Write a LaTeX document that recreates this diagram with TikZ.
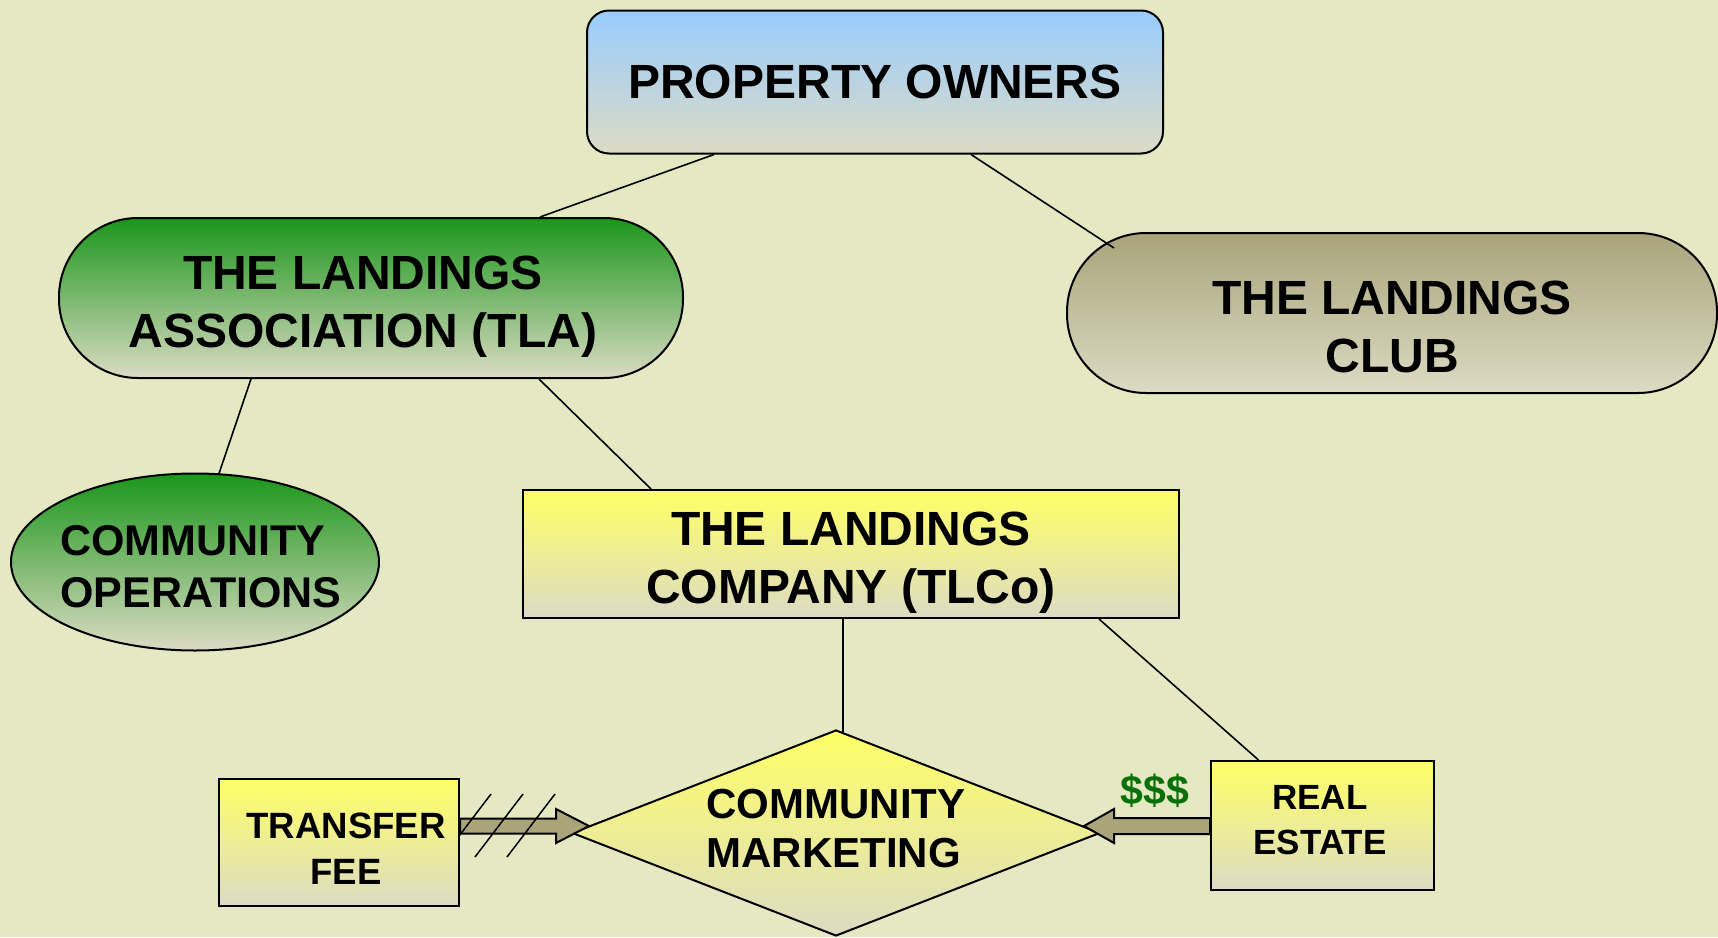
\documentclass[tikz,border=0pt]{standalone}
\usepackage{fontspec}
\setmainfont{Liberation Sans}
\usetikzlibrary{shapes.geometric,calc}

\definecolor{bg}{RGB}{229,233,195}
\definecolor{fade}{RGB}{220,219,196}
\definecolor{sky}{RGB}{153,204,255}
\definecolor{leaf}{RGB}{26,150,26}
\definecolor{olive}{RGB}{169,164,122}
\definecolor{lemon}{RGB}{255,255,102}
\definecolor{money}{RGB}{10,112,10}

\begin{document}
\begin{tikzpicture}[x=0.5pt,y=-0.5pt,
  box/.style={draw=black, line width=1pt, inner sep=0pt, align=center, bottom color=fade},
  bigtext/.style={font=\fontsize{24}{29}\selectfont\bfseries, align=center},
  optext/.style={font=\fontsize{21.5}{26}\selectfont\bfseries, align=left},
  mktext/.style={font=\fontsize{21}{24.5}\selectfont\bfseries, align=left},
  tftext/.style={font=\fontsize{18.3}{23}\selectfont\bfseries, align=center},
  retext/.style={font=\fontsize{17.5}{22.5}\selectfont\bfseries, align=center},
  link/.style={draw=black, line width=0.8pt},
  blockarrow/.style={draw=black, line width=1pt, fill=olive, line join=miter},
  hatch/.style={draw=black, line width=0.75pt}]

\useasboundingbox (0,0) rectangle (1718,937);
\fill[bg] (0,0) rectangle (1718,937);

% top level
\node[box, bigtext, top color=sky, rounded corners=11pt,
      minimum width=288pt, minimum height=71.5pt] (po) at (875,82) {PROPERTY OWNERS};

% association and club
\node[box, top color=leaf, rounded corners=39.5pt,
      minimum width=312pt, minimum height=80pt,
      label={[bigtext, xshift=-4pt, yshift=-4.5pt]center:THE LANDINGS\\ASSOCIATION (TLA)}] (tla) at (371,298) {};
\node[box, top color=olive, rounded corners=39.5pt,
      minimum width=325pt, minimum height=80pt,
      label={[bigtext, yshift=-7pt]center:THE LANDINGS\\CLUB}] (club) at (1392,313) {};

% operations
\node[box, ellipse, top color=leaf, minimum width=184pt, minimum height=88.5pt,
      label={[optext, xshift=3pt, yshift=-2.5pt]center:COMMUNITY\\OPERATIONS}] (co) at (195,562) {};

% company
\node[box, top color=lemon, minimum width=328pt, minimum height=64pt,
      label={[bigtext, yshift=-4.5pt]center:THE LANDINGS\\COMPANY (TLCo)}] (tlco) at (851,554) {};

% marketing and its inputs
\node[box, diamond, aspect=2.563, top color=lemon, minimum width=264pt, minimum height=103pt,
      label={[mktext, yshift=2pt]center:COMMUNITY\\MARKETING}] (dia) at (836,833) {};
\node[box, top color=lemon, minimum width=120pt, minimum height=63.5pt,
      label={[tftext, xshift=3.5pt, yshift=-3.5pt]center:TRANSFER\\FEE}] (tf) at (339,842) {};
\node[box, top color=lemon, minimum width=111.5pt, minimum height=64.5pt,
      label={[retext, xshift=-1.25pt, yshift=2.5pt]center:REAL\\ESTATE}] (re) at (1322.5,825.5) {};

\node[font=\fontsize{20.5}{24}\selectfont\bfseries, text=money, inner sep=0pt] (usd) at (1155,791) {\$\$\$};

% connectors
\draw[link] ($(po.south)+(-161,0)$) -- ($(tla.north)+(169,0)$);
\draw[link] ($(po.south)+(96,0)$) -- ($(club.north)+(-278,16)$);
\draw[link] ($(tla.south)+(-120,0)$) -- ($(co.north)+(24,1)$);
\draw[link] ($(tla.south)+(168,0)$) -- ($(tlco.north)+(-200,0)$);
\draw[link] ($(tlco.south)+(-8,0)$) -- ($(dia.north)+(7,3)$);
\draw[link] ($(tlco.south)+(248,0)$) -- ($(re.north)+(-64,0)$);

% block arrows into marketing
\draw[blockarrow] ($(tf.east)+(0,-23.5)$) -- ++(96,0) -- ++(0,-9.5) -- ++(33,17)
      -- ++(-33,17) -- ++(0,-9.5) -- ++(-96,0) -- cycle;
\draw[blockarrow] ($(re.west)+(0,-7.5)$) -- ++(-96,0) -- ++(0,-9) -- ++(-30,17)
      -- ++(30,17) -- ++(0,-9) -- ++(96,0) -- cycle;

% hatch marks across the fee arrow
\draw[hatch] (491,794) -- (459,836);
\draw[hatch] (523,794) -- (475,857);
\draw[hatch] (555,794) -- (507,857);

\end{tikzpicture}
\end{document}
